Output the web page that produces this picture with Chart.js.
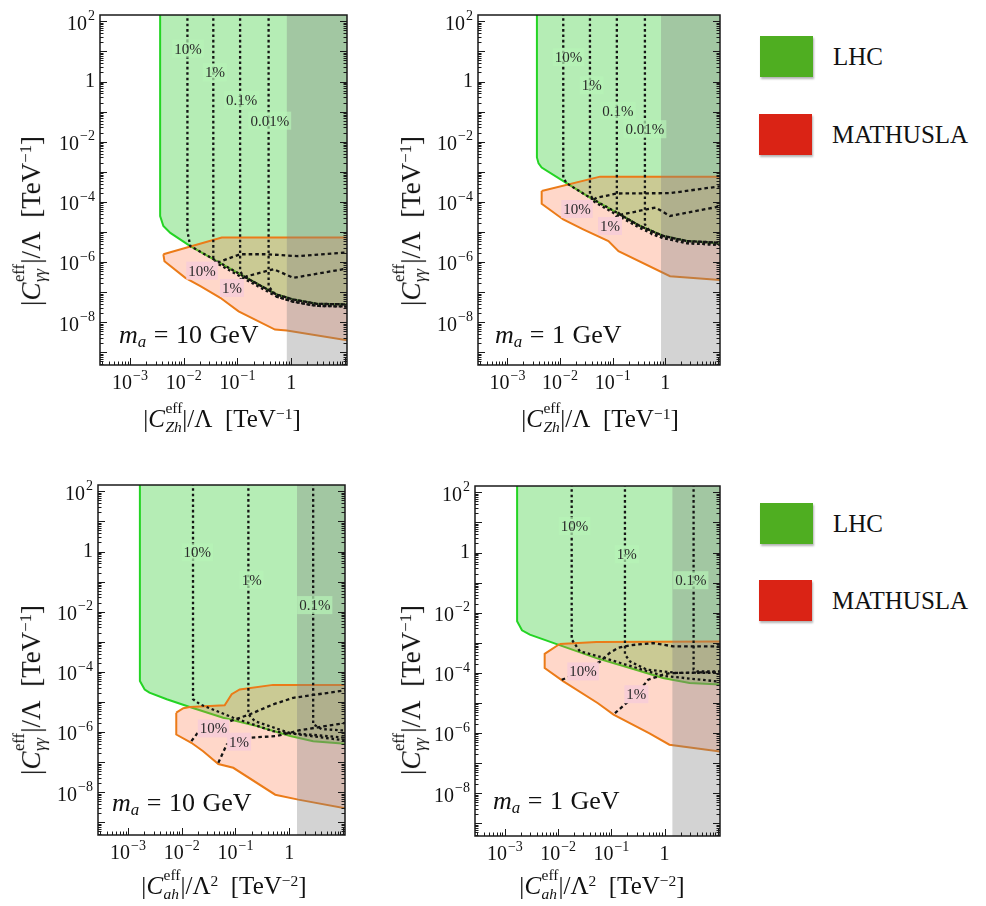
<!DOCTYPE html>
<html lang="en">
<head>
<meta charset="UTF-8">
<title>LHC vs MATHUSLA reach</title>
<script src="https://cdn.jsdelivr.net/npm/chart.js"></script>
<style>
  html, body { margin: 0; padding: 0; background: #fff; }
  #page { position: relative; width: 986px; height: 906px; overflow: hidden; }
  canvas { position: absolute; }
  .t { position: absolute; font-family: "Liberation Serif", "Times New Roman", serif; color: #111; white-space: nowrap; line-height: 1; z-index: 2; }
  .ss { display: inline-block; vertical-align: -0.3em; font-size: 0.62em; line-height: 1.25; margin-left: 0.03em; text-align: left; }
  .ss > span { display: block; }
  sup { font-size: 0.62em; vertical-align: 0.55em; line-height: 0; }
  .t sub { font-size: 0.65em; vertical-align: -0.25em; line-height: 0; font-style: italic; }
  .ytitle { font-size: 27px; transform: translate(-50%, -50%) rotate(-90deg); }
  .xtitle { font-size: 25px; transform: translate(-50%, -50%); }
  .mass { font-size: 26px; word-spacing: 1px; }
  .box { position: absolute; width: 53px; height: 41px; box-shadow: 1px 2px 2px rgba(0,0,0,0.3); }
  .lab { font-size: 25px; transform: translateY(-50%); }
</style>
</head>
<body>
<div id="page">
  <canvas id="p1" width="370" height="400" style="left:0;top:0"></canvas>
  <canvas id="p2" width="370" height="400" style="left:370px;top:0"></canvas>
  <canvas id="p3" width="370" height="420" style="left:0;top:460px"></canvas>
  <canvas id="p4" width="370" height="420" style="left:370px;top:460px"></canvas>

  <div class="t ytitle" style="left:30px;top:221px">|<i>C</i><span class="ss"><span>eff</span><span><i>γγ</i></span></span>|/Λ&nbsp;&nbsp;[TeV<sup>−1</sup>]</div>
  <div class="t ytitle" style="left:410px;top:221px">|<i>C</i><span class="ss"><span>eff</span><span><i>γγ</i></span></span>|/Λ&nbsp;&nbsp;[TeV<sup>−1</sup>]</div>
  <div class="t ytitle" style="left:30px;top:690px">|<i>C</i><span class="ss"><span>eff</span><span><i>γγ</i></span></span>|/Λ&nbsp;&nbsp;[TeV<sup>−1</sup>]</div>
  <div class="t ytitle" style="left:410px;top:690px">|<i>C</i><span class="ss"><span>eff</span><span><i>γγ</i></span></span>|/Λ&nbsp;&nbsp;[TeV<sup>−1</sup>]</div>

  <div class="t xtitle" style="left:222px;top:417px">|<i>C</i><span class="ss"><span>eff</span><span><i>Zh</i></span></span>|/Λ&nbsp;&nbsp;[TeV<sup>−1</sup>]</div>
  <div class="t xtitle" style="left:600px;top:417px">|<i>C</i><span class="ss"><span>eff</span><span><i>Zh</i></span></span>|/Λ&nbsp;&nbsp;[TeV<sup>−1</sup>]</div>
  <div class="t xtitle" style="left:224px;top:884px">|<i>C</i><span class="ss"><span>eff</span><span><i>ah</i></span></span>|/Λ<sup>2</sup>&nbsp;&nbsp;[TeV<sup>−2</sup>]</div>
  <div class="t xtitle" style="left:602px;top:884px">|<i>C</i><span class="ss"><span>eff</span><span><i>ah</i></span></span>|/Λ<sup>2</sup>&nbsp;&nbsp;[TeV<sup>−2</sup>]</div>

  <div class="t mass" style="left:119px;top:322px"><i>m</i><sub>a</sub> = 10 GeV</div>
  <div class="t mass" style="left:495px;top:322px"><i>m</i><sub>a</sub> = 1 GeV</div>
  <div class="t mass" style="left:112px;top:790px"><i>m</i><sub>a</sub> = 10 GeV</div>
  <div class="t mass" style="left:493px;top:788px"><i>m</i><sub>a</sub> = 1 GeV</div>

  <div class="box" style="left:760px;top:36px;background:#4fae21"></div>
  <div class="t lab" style="left:833px;top:56px">LHC</div>
  <div class="box" style="left:759px;top:114px;background:#da2315"></div>
  <div class="t lab" style="left:832px;top:134px">MATHUSLA</div>
  <div class="box" style="left:760px;top:503px;background:#4fae21"></div>
  <div class="t lab" style="left:833px;top:523px">LHC</div>
  <div class="box" style="left:759px;top:580px;background:#da2315"></div>
  <div class="t lab" style="left:832px;top:600px">MATHUSLA</div>
</div>

<script>
// tick labels (powers of ten)
const xTickPowers = [-3, -2, -1, 0];
const yTickPowers = [2, 0, -2, -4, -6, -8];

// start of the grey band (x above this is shaded)
const zhBandStart = 0.83;
const ahBandStart = 1.4;

// ---- m_a = 10 GeV, C_Zh ----
const zh10Lhc = [[3.63e-3,1e3],[3.63e-3,3.4e-5],[4.17e-3,1.58e-5],[5.62e-3,9.3e-6],[1.32e-2,3.4e-6],[4.79e-2,9.3e-7],[0.129,3.4e-7],[0.54,8.3e-8],[1.1,5.7e-8],[3.0,4.1e-8],[9.3,3.9e-8],[30,3.8e-8],[30,1e3],[3.63e-3,1e3]];
const zh10Mat = [[4.17e-3,1.82e-6],[4.37e-3,1.07e-6],[1.07e-2,3.0e-7],[2.04e-2,1.58e-7],[4.79e-2,6.5e-8],[0.105,2.3e-8],[0.50,5.7e-9],[0.83,5.3e-9],[30,1.9e-9],[30,6.5e-6],[5.1e-2,6.5e-6],[4.17e-3,1.82e-6]];
const zh10Lhc10 = [[1.17e-2,1e3],[1.17e-2,1.07e-5],[1.32e-2,3.4e-6],[4.79e-2,9.3e-7],[0.129,3.4e-7],[0.54,8.3e-8],[1.1,5.7e-8],[3.0,4.1e-8],[30,3.8e-8]];
const zh10Lhc1 = [[3.55e-2,1e3],[3.55e-2,1.23e-6],[4.17e-2,9.1e-7],[0.129,2.9e-7],[0.54,7.1e-8],[1.1,4.8e-8],[3.0,3.5e-8],[30,3.2e-8]];
const zh10Lhc01 = [[0.112,1e3],[0.112,5.0e-7],[0.129,3.4e-7],[0.54,8.3e-8],[1.1,5.7e-8],[3.0,4.1e-8],[30,3.8e-8]];
const zh10Lhc001 = [[0.38,1e3],[0.38,1.58e-7],[0.54,7.1e-8],[1.1,4.8e-8],[3.0,3.5e-8],[30,3.2e-8]];
const zh10Mat10 = [[1.17e-2,3.2e-7],[2.19e-2,5.2e-7],[4.17e-2,9.5e-7],[0.112,1.82e-6],[0.355,1.82e-6],[1.29,1.58e-6],[9.3,2.04e-6],[30,2.2e-6]];
const zh10Mat1 = [[6.2e-2,7.4e-8],[7.9e-2,1.38e-7],[0.112,2.6e-7],[0.151,3.4e-7],[0.47,5.8e-7],[1.1,3.0e-7],[9.3,5.8e-7],[30,6.5e-7]];
const zh10LhcTags = [[1.2e-2,12.3,'10%'],[3.8e-2,2.04,'1%'],[0.12,0.245,'0.1%'],[0.40,5.0e-2,'0.01%']];
const zh10MatTags = [[2.19e-2,5.2e-7,'10%'],[7.9e-2,1.38e-7,'1%']];

// ---- m_a = 1 GeV, C_Zh ----
const zh1Lhc = [[3.63e-3,1e3],[3.63e-3,3.0e-3],[3.9e-3,1.9e-3],[4.47e-3,1.38e-3],[1.35e-2,4.1e-4],[3.7e-2,1.38e-4],[0.12,4.4e-5],[0.33,1.58e-5],[0.91,7.4e-6],[2.57,5.0e-6],[12.6,4.1e-6],[30,4.0e-6],[30,1e3],[3.63e-3,1e3]];
const zh1Mat = [[4.47e-3,2.3e-4],[4.47e-3,8.7e-5],[1.15e-2,2.6e-5],[2.75e-2,1.23e-5],[8.3e-2,5.0e-6],[0.129,2.3e-6],[1.23,3.4e-7],[12.6,2.5e-7],[30,2.3e-7],[30,6.9e-4],[5.75e-2,6.9e-4],[4.47e-3,2.3e-4]];
const zh1Lhc10 = [[1.15e-2,1e3],[1.15e-2,6.3e-4],[1.35e-2,4.1e-4],[3.7e-2,1.38e-4],[0.12,4.4e-5],[0.33,1.58e-5],[0.91,7.4e-6],[2.57,5.0e-6],[30,4.0e-6]];
const zh1Lhc1 = [[3.7e-2,1e3],[3.7e-2,1.8e-4],[4.5e-2,1.0e-4],[0.12,3.7e-5],[0.33,1.34e-5],[0.91,6.3e-6],[2.57,4.25e-6],[30,3.4e-6]];
const zh1Lhc01 = [[0.12,1e3],[0.12,5.0e-5],[0.14,3.7e-5],[0.33,1.58e-5],[0.91,7.4e-6],[2.57,5.0e-6],[30,4.0e-6]];
const zh1Lhc001 = [[0.41,1e3],[0.41,1.8e-5],[0.55,8.5e-6],[0.91,6.3e-6],[2.57,4.25e-6],[30,3.4e-6]];
const zh1Mat10 = [[1.23e-2,3.4e-5],[2.1e-2,5.8e-5],[3.5e-2,9.5e-5],[5.0e-2,1.38e-4],[0.12,1.9e-4],[1.23,1.95e-4],[12.6,3.4e-4],[30,3.6e-4]];
const zh1Mat1 = [[6.2e-2,8.7e-6],[8.9e-2,1.58e-5],[0.12,3.4e-5],[0.158,3.9e-5],[0.65,6.5e-5],[1.23,3.4e-5],[12.6,7.4e-5],[30,7.8e-5]];
const zh1LhcTags = [[1.45e-2,6.5,'10%'],[4.0e-2,0.74,'1%'],[0.126,0.107,'0.1%'],[0.41,2.6e-2,'0.01%']];
const zh1MatTags = [[2.1e-2,5.8e-5,'10%'],[8.9e-2,1.58e-5,'1%']];

// ---- m_a = 10 GeV, C_ah ----
const ah10Lhc = [[1.66e-3,1e3],[1.66e-3,5.0e-5],[2.04e-3,2.6e-5],[2.5e-3,2.04e-5],[5.25e-3,1.23e-5],[1.41e-2,6.8e-6],[5.9e-2,3.0e-6],[0.25,1.58e-6],[1.05,7.4e-7],[2.8,5.0e-7],[11.5,4.1e-7],[30,4.0e-7],[30,1e3],[1.66e-3,1e3]];
const ah10Mat = [[7.9e-3,4.4e-6],[1.07e-2,6.2e-6],[1.41e-2,6.8e-6],[6.3e-2,7.8e-6],[8.5e-2,1.82e-5],[0.12,2.6e-5],[0.5,3.7e-5],[30,3.7e-5],[30,2.1e-9],[1.48,5.7e-9],[0.55,8.3e-9],[9.1e-2,6.5e-8],[4.8e-2,8.7e-8],[2.5e-2,2.3e-7],[1.51e-2,4.4e-7],[7.9e-3,8.3e-7],[7.9e-3,4.4e-6]];
const ah10Lhc10 = [[1.62e-2,1e3],[1.62e-2,1.23e-5],[2.2e-2,8.3e-6],[9.1e-2,3.0e-6],[0.5,1.07e-6],[30,4.2e-7]];
const ah10Lhc1 = [[0.174,1e3],[0.174,3.9e-6],[0.23,2.3e-6],[1.0,9.5e-7],[30,5.5e-7]];
const ah10Lhc01 = [[2.8,1e3],[2.8,1.82e-6],[4.0,1.26e-6],[30,1.0e-6]];
const ah10Mat10 = [[1.51e-2,5.0e-7],[2.34e-2,1.38e-6],[7.9e-2,2.3e-6],[0.186,3.9e-6],[0.5,8.3e-6],[1.2,1.38e-5],[11.5,2.45e-5],[30,2.6e-5]];
const ah10Mat1 = [[4.8e-2,9.5e-8],[6.9e-2,3.9e-7],[0.117,4.8e-7],[0.186,6.5e-7],[0.59,7.4e-7],[1.58,1.15e-6],[11.5,2.04e-6],[30,2.2e-6]];
const ah10LhcTags = [[1.95e-2,0.95,'10%'],[0.2,0.115,'1%'],[3.0,1.66e-2,'0.1%']];
const ah10MatTags = [[3.9e-2,1.32e-6,'10%'],[0.117,4.8e-7,'1%']];

// ---- m_a = 1 GeV, C_ah ----
const ah1Lhc = [[1.7e-3,1e3],[1.7e-3,5.2e-3],[2.1e-3,2.6e-3],[2.95e-3,1.86e-3],[1.0e-2,8.7e-4],[5.25e-2,3.1e-4],[0.224,1.45e-4],[0.93,6.8e-5],[2.95,4.6e-5],[12.3,4.1e-5],[30,4.0e-5],[30,1e3],[1.7e-3,1e3]];
const ah1Mat = [[1.07e-2,9.1e-4],[5.25e-2,1.07e-3],[30,1.12e-3],[30,1.9e-7],[1.23,4.1e-7],[0.52,9.8e-7],[0.11,4.1e-6],[5.6e-2,9.8e-6],[1.26e-2,5.2e-5],[5.6e-3,1.45e-4],[5.6e-3,4.3e-4],[1.07e-2,9.1e-4]];
const ah1Lhc10 = [[1.8e-2,1e3],[1.8e-2,1.29e-3],[2.57e-2,5.2e-4],[7.1e-2,3.2e-4],[0.224,1.7e-4],[0.93,8.0e-5],[12.3,5.0e-5],[30,4.8e-5]];
const ah1Lhc1 = [[0.18,1e3],[0.18,4.1e-4],[0.224,2.4e-4],[0.46,1.29e-4],[1.66,1.0e-4],[30,1.0e-4]];
const ah1Lhc01 = [[3.5,1e3],[3.5,1.29e-4],[4.0,1.12e-4],[30,1.12e-4]];
const ah1Mat10 = [[1.17e-2,5.9e-5],[2.95e-2,1.12e-4],[6.2e-2,2.4e-4],[9.3e-2,4.6e-4],[0.135,6.8e-4],[0.224,8.3e-4],[0.62,9.8e-4],[1.45,7.6e-4],[30,7.6e-4]];
const ah1Mat1 = [[0.117,4.6e-6],[0.295,1.95e-5],[0.49,5.9e-5],[0.93,8.7e-5],[1.26,9.8e-5],[30,1.12e-4]];
const ah1LhcTags = [[2.04e-2,7.6,'10%'],[0.195,0.87,'1%'],[3.1,0.12,'0.1%']];
const ah1MatTags = [[2.95e-2,1.12e-4,'10%'],[0.295,1.95e-5,'1%']];

const SERIF = '"Liberation Serif", "Times New Roman", serif';
const pts = arr => arr.map(([x, y]) => ({x, y}));

// draws "10^e" with a raised exponent
function drawPow(ctx, e, x, y, align) {
  const base = e === 0 ? '1' : '10';
  const sup = e === 0 ? '' : String(e).replace('-', '\u2212');
  ctx.font = '20px ' + SERIF;
  const wb = ctx.measureText(base).width;
  ctx.font = '14px ' + SERIF;
  const ws = sup ? ctx.measureText(sup).width + 1 : 0;
  const w = wb + ws;
  const x0 = align === 'right' ? x - w : x - w / 2;
  ctx.textAlign = 'left';
  ctx.textBaseline = 'middle';
  ctx.font = '20px ' + SERIF;
  ctx.fillText(base, x0, y);
  if (sup) {
    ctx.font = '14px ' + SERIF;
    ctx.fillText(sup, x0 + wb + 1, y - 8);
  }
}

const frameTicks = {
  id: 'frameTicks',
  afterDraw(chart) {
    const {ctx, chartArea: a} = chart;
    const xs = chart.scales.x, ys = chart.scales.y;
    ctx.save();
    ctx.strokeStyle = '#1a1a1a';
    ctx.lineWidth = 1;
    ctx.beginPath();
    for (let e = -11; e <= 3; e++) {
      for (let m = 1; m <= 9; m++) {
        const v = m * Math.pow(10, e);
        const len = m === 1 ? 7 : 3.5;
        if (v > ys.min && v < ys.max) {
          const p = Math.round(ys.getPixelForValue(v)) + 0.5;
          ctx.moveTo(a.left, p); ctx.lineTo(a.left + len, p);
          ctx.moveTo(a.right, p); ctx.lineTo(a.right - len, p);
        }
        if (v > xs.min && v < xs.max) {
          const p = Math.round(xs.getPixelForValue(v)) + 0.5;
          ctx.moveTo(p, a.bottom); ctx.lineTo(p, a.bottom - len);
        }
      }
    }
    ctx.stroke();
    ctx.lineWidth = 1.5;
    ctx.strokeRect(a.left, a.top, a.right - a.left, a.bottom - a.top);
    ctx.fillStyle = '#111';
    yTickPowers.forEach(e => drawPow(ctx, e, a.left - 5, ys.getPixelForValue(Math.pow(10, e)) + (e === 0 ? 0 : 3), 'right'));
    xTickPowers.forEach(e => drawPow(ctx, e, xs.getPixelForValue(Math.pow(10, e)), a.bottom + 19, 'center'));
    ctx.restore();
  }
};

const contourTags = {
  id: 'contourTags',
  afterDatasetsDraw(chart, args, opts) {
    const {ctx} = chart;
    const xs = chart.scales.x, ys = chart.scales.y;
    ctx.save();
    ctx.font = '15px ' + SERIF;
    ctx.textAlign = 'center';
    ctx.textBaseline = 'middle';
    [[opts.lhc, 'rgba(183,243,183,0.7)'], [opts.mat, '#f8ced6']].forEach(([list, bg]) => {
      list.forEach(([x, y, t]) => {
        const px = xs.getPixelForValue(x), py = ys.getPixelForValue(y);
        const w = ctx.measureText(t).width + 4;
        ctx.fillStyle = bg;
        ctx.fillRect(px - w / 2, py - 9, w, 18);
        ctx.fillStyle = '#2a2a2a';
        ctx.fillText(t, px, py + 1);
      });
    });
    ctx.restore();
  }
};

function makePanel(id, pad, p) {
  const contour = (data, dash) => ({
    data: pts(data), fill: false, borderColor: '#141414', borderWidth: 2.3,
    borderDash: dash, pointRadius: 0, order: 1
  });
  const datasets = [
    ...p.lhcLines.map(l => contour(l, [2.6, 2.8])),
    ...p.matLines.map(l => contour(l, [3.6, 3])),
    {data: pts([[p.band, 1e-12], [p.band, 1e4], [1e3, 1e4], [1e3, 1e-12], [p.band, 1e-12]]),
     fill: 'shape', backgroundColor: 'rgba(128,128,128,0.35)', borderWidth: 0, pointRadius: 0, order: 3},
    {data: pts(p.mat), fill: 'shape', backgroundColor: 'rgba(255,110,60,0.28)',
     borderColor: '#eb7b18', borderWidth: 2, pointRadius: 0, order: 4},
    {data: pts(p.lhc), fill: 'shape', backgroundColor: 'rgba(50,205,50,0.36)',
     borderColor: '#24d424', borderWidth: 2, pointRadius: 0, order: 5}
  ];
  return new Chart(document.getElementById(id), {
    type: 'line',
    data: {datasets},
    options: {
      responsive: false,
      animation: false,
      events: [],
      layout: {padding: pad},
      scales: {
        x: {type: 'logarithmic', min: Math.pow(10, -3.56), max: Math.pow(10, 1.04), display: false},
        y: {type: 'logarithmic', min: Math.pow(10, -9.42), max: Math.pow(10, 2.21), display: false}
      },
      plugins: {
        legend: {display: false},
        tooltip: {enabled: false},
        contourTags: {lhc: p.lhcTags, mat: p.matTags}
      }
    },
    plugins: [frameTicks, contourTags]
  });
}

makePanel('p1', {left: 100, top: 15, right: 23, bottom: 35}, {
  lhc: zh10Lhc, mat: zh10Mat, band: zhBandStart,
  lhcLines: [zh10Lhc10, zh10Lhc1, zh10Lhc01, zh10Lhc001], matLines: [zh10Mat10, zh10Mat1],
  lhcTags: zh10LhcTags, matTags: zh10MatTags
});
makePanel('p2', {left: 108, top: 15, right: 20, bottom: 35}, {
  lhc: zh1Lhc, mat: zh1Mat, band: zhBandStart,
  lhcLines: [zh1Lhc10, zh1Lhc1, zh1Lhc01, zh1Lhc001], matLines: [zh1Mat10, zh1Mat1],
  lhcTags: zh1LhcTags, matTags: zh1MatTags
});
makePanel('p3', {left: 98, top: 25, right: 25, bottom: 45}, {
  lhc: ah10Lhc, mat: ah10Mat, band: ahBandStart,
  lhcLines: [ah10Lhc10, ah10Lhc1, ah10Lhc01], matLines: [ah10Mat10, ah10Mat1],
  lhcTags: ah10LhcTags, matTags: ah10MatTags
});
makePanel('p4', {left: 105, top: 26, right: 20, bottom: 44}, {
  lhc: ah1Lhc, mat: ah1Mat, band: ahBandStart,
  lhcLines: [ah1Lhc10, ah1Lhc1, ah1Lhc01], matLines: [ah1Mat10, ah1Mat1],
  lhcTags: ah1LhcTags, matTags: ah1MatTags
});
</script>
</body>
</html>
